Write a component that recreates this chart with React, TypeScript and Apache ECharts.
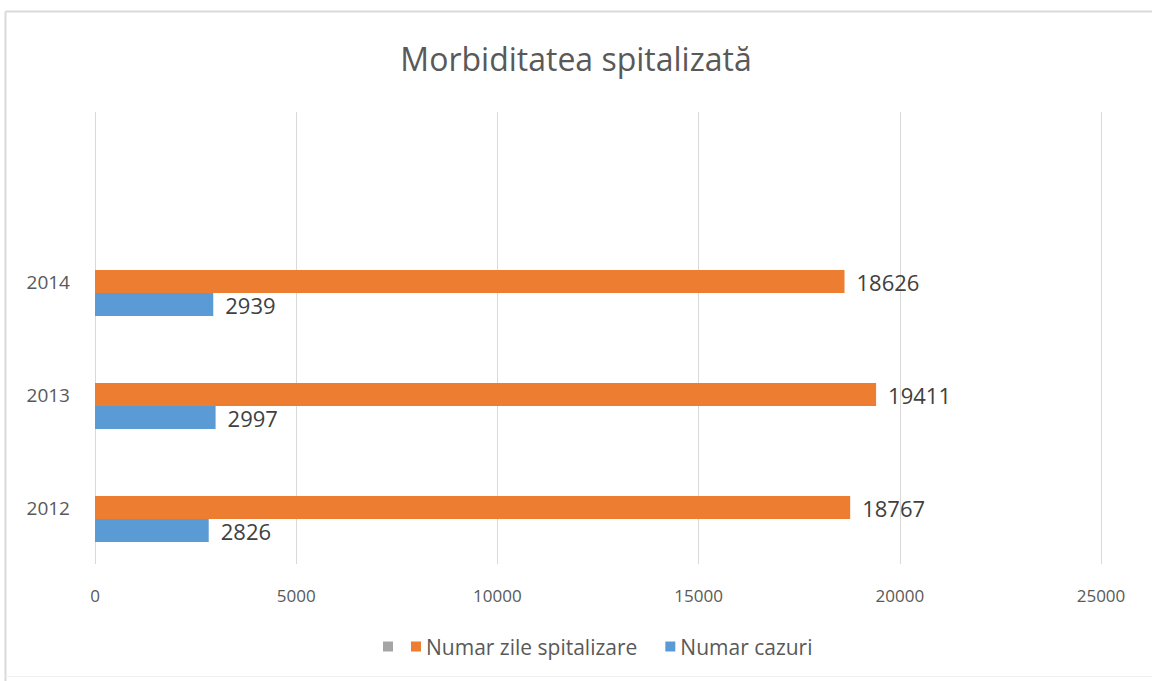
import React, { useEffect, useRef } from "react";
import * as echarts from "echarts";

const categories = ["2012", "2013", "2014", ""];
const zileSpitalizare = [18767, 19411, 18626, null];
const numarCazuri = [2826, 2997, 2939, null];
const emptySeries = [null, null, null, null];
const xTicks = { min: 0, max: 25000, interval: 5000 };
const title = "Morbiditatea spitalizată";
const seriesNames = { empty: " ", zile: "Numar zile spitalizare", cazuri: "Numar cazuri" };

export default function App() {
  const ref = useRef<HTMLDivElement>(null);
  useEffect(() => {
    if (!ref.current) return;
    const chart = echarts.init(ref.current, undefined, { renderer: "svg" });
    const font = "'Open Sans', 'Noto Sans', sans-serif";
    const labelStyle = {
      show: true,
      position: "right" as const,
      distance: 12,
      color: "#404040",
      fontSize: 22,
      fontFamily: font,
    };
    const legendCommon = {
      bottom: 19,
      icon: "rect",
      itemWidth: 10,
      itemHeight: 10,
      textStyle: { color: "#595959", fontSize: 21, fontFamily: font },
    };
    chart.setOption({
      animation: false,
      backgroundColor: "#ffffff",
      title: {
        text: title,
        left: "center",
        top: 37,
        textStyle: { color: "#595959", fontSize: 32, fontWeight: "normal", fontFamily: font },
      },
      graphic: [
        { type: "line", shape: { x1: 5.5, y1: 11.5, x2: 1152, y2: 11.5 }, style: { stroke: "#d9d9d9", lineWidth: 2 } },
        { type: "line", shape: { x1: 5.5, y1: 11.5, x2: 5.5, y2: 681 }, style: { stroke: "#d9d9d9", lineWidth: 2 } },
        { type: "line", shape: { x1: 5.5, y1: 676.5, x2: 1152, y2: 676.5 }, style: { stroke: "#f0f0f0", lineWidth: 1 } },
      ],
      legend: [
        { ...legendCommon, data: [seriesNames.empty], left: 378 },
        { ...legendCommon, data: [seriesNames.zile, seriesNames.cazuri], left: 406, itemGap: 28 },
      ],
      grid: { left: 95, right: 51, top: 112, bottom: 117, containLabel: false },
      xAxis: {
        type: "value",
        min: xTicks.min,
        max: xTicks.max,
        interval: xTicks.interval,
        axisLine: { show: false },
        axisTick: { show: false },
        axisLabel: {
          color: "#595959",
          fontSize: 17,
          fontFamily: font,
          margin: 23,
          formatter: (v: number) => String(v),
        },
        splitLine: { show: true, lineStyle: { color: "#d9d9d9", width: 1 } },
      },
      yAxis: {
        type: "category",
        data: categories,
        axisLine: { show: false },
        axisTick: { show: false },
        axisLabel: { color: "#595959", fontSize: 19, fontFamily: font, margin: 25 },
      },
      series: [
        {
          name: seriesNames.empty,
          type: "bar",
          data: emptySeries,
          itemStyle: { color: "#A5A5A5" },
          barWidth: 23,
          barGap: "0%",
        },
        {
          name: seriesNames.zile,
          type: "bar",
          data: zileSpitalizare,
          itemStyle: { color: "#ED7D31" },
          label: labelStyle,
          barWidth: 23,
          barGap: "0%",
        },
        {
          name: seriesNames.cazuri,
          type: "bar",
          data: numarCazuri,
          itemStyle: { color: "#5B9BD5" },
          label: labelStyle,
          barWidth: 23,
          barGap: "0%",
        },
      ],
    });
    return () => chart.dispose();
  }, []);
  return (
    <div
      ref={ref}
      style={{ position: "fixed", left: 0, top: 0, width: 1152, height: 681 }}
    />
  );
}
